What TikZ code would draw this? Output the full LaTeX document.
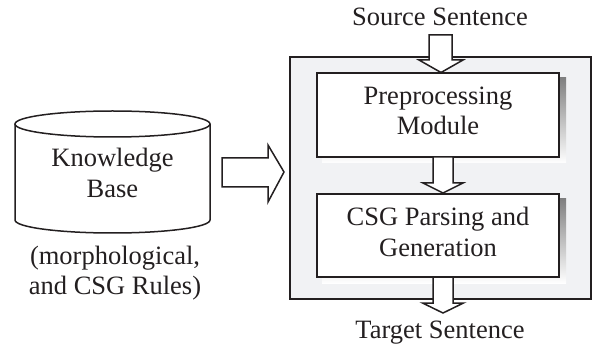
\documentclass[tikz,border=0pt]{standalone}
\usepackage{fontspec}
\setmainfont{Liberation Serif}
\definecolor{ink}{HTML}{231F20}
\definecolor{panel}{HTML}{F1F2F4}
\definecolor{shade}{HTML}{BDBDBF}
\begin{document}
\begin{tikzpicture}[x=1pt,y=1pt,
  txt/.style={font=\fontsize{26.5}{30.5}\selectfont, align=center, inner sep=0pt, text=ink},
  modbox/.style={draw=ink, line width=2pt, fill=white, minimum width=242pt, minimum height=84pt, inner sep=0pt},
  blockarrow/.style={draw=ink, line width=1.5pt, fill=white, line join=miter}]
\useasboundingbox (0,0) rectangle (593,345);
% outer panel
\node[draw=ink, line width=1.4pt, fill=panel, minimum width=301pt, minimum height=242pt, inner sep=0pt] (panel) at (440.5,167) {};
% shadows
\fill[shade] (322,182) rectangle (566,267);
\fill[shade] (322,62) rectangle (566,146);
% modules
\node[modbox] (pre) at (438,230) {};
\node[txt] at (438,234) {Preprocessing\\Module};
\node[modbox, minimum height=83pt] (csg) at (438,109.5) {};
\node[txt] at (438,113) {CSG Parsing and\\Generation};
% source / target
\node[txt] (src) at (440,328) {Source Sentence};
\node[txt] (tgt) at (440,12) {Target Sentence};
% block arrows
\draw[blockarrow] (429,310) -- (452,310) -- (452,285) -- (463,285) -- (441,272.5) -- (419,285) -- (429,285) -- cycle;
\draw[blockarrow] (433,188) -- (453,188) -- (453,162) -- (463,162) -- (443,152) -- (423,162) -- (433,162) -- cycle;
\draw[blockarrow] (433,68) -- (453,68) -- (453,42) -- (463.5,42) -- (443,32) -- (422.5,42) -- (433,42) -- cycle;
\draw[blockarrow] (222,187) -- (268,187) -- (268,200) -- (284,173) -- (268,143) -- (268,158) -- (222,158) -- cycle;
% cylinder
\fill[white] (15,221) -- (15,125) arc[start angle=180, end angle=360, x radius=97.5pt, y radius=13pt] -- (210,221) -- cycle;
\draw[ink, line width=1.5pt] (112.5,221) ellipse[x radius=97.5pt, y radius=13pt];
\draw[ink, line width=1.5pt] (15,221) -- (15,125) arc[start angle=180, end angle=360, x radius=97.5pt, y radius=13pt] -- (210,221);
\node[txt] (kb) at (112.5,172) {Knowledge\\Base};
\node[txt] (rules) at (115,72) {(morphological,\\and CSG Rules)};
\end{tikzpicture}
\end{document}
